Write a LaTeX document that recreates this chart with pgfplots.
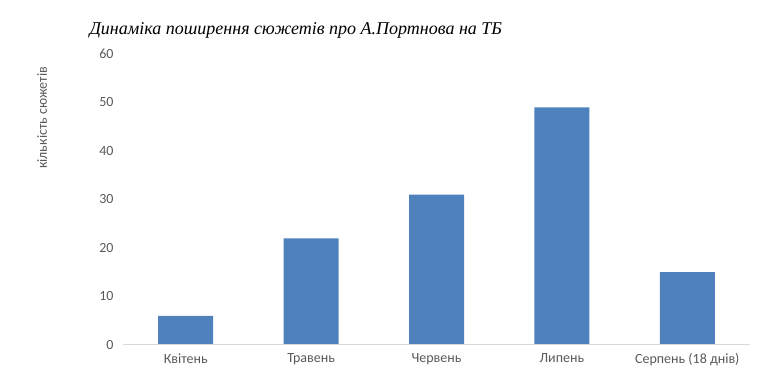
\documentclass[border=0pt]{standalone}
\usepackage{pgfplots}
\pgfplotsset{compat=1.18}
\usepackage{fontspec}
\setmainfont{Carlito}
\newfontfamily\titlefont{Liberation Serif}
\definecolor{barblue}{HTML}{4F81BD}
\definecolor{txtgray}{HTML}{595959}
\definecolor{axgray}{HTML}{D9D9D9}
\begin{document}
\begin{tikzpicture}[x=1pt,y=1pt]
\useasboundingbox (0,0) rectangle (768,377);
\node[anchor=west,font=\titlefont\itshape\fontsize{18}{20}\selectfont] at (86,347) {Динаміка поширення сюжетів про А.Портнова на ТБ};
\node[rotate=90,text=txtgray,font=\fontsize{14}{16}\selectfont] at (42,259) {кількість сюжетів};
\begin{axis}[
  at={(123pt,32pt)}, anchor=south west,
  scale only axis, width=627pt, height=291pt,
  xmin=-0.5, xmax=4.5, ymin=0, ymax=60,
  ytick={0,10,...,60},
  xtick={0,1,2,3,4},
  xticklabels={Квітень,Травень,Червень,Липень,Серпень (18 днів)},
  axis line style={draw=none},
  axis x line*=bottom, axis y line*=left,
  major tick length=0pt,
  tick label style={text=txtgray,font=\fontsize{14}{16}\selectfont},
  /pgf/number format/assume math mode=true,
  yticklabel style={xshift=-6pt},
  xticklabel style={yshift=-5pt},
  clip=false,
]
\addplot[ybar, bar width=55pt, fill=barblue, draw=none] coordinates {(0,6) (1,22) (2,31) (3,49) (4,15)};
\draw[axgray, line width=1pt] (axis cs:-0.5,0) -- (axis cs:4.5,0);
\end{axis}
\end{tikzpicture}
\end{document}
